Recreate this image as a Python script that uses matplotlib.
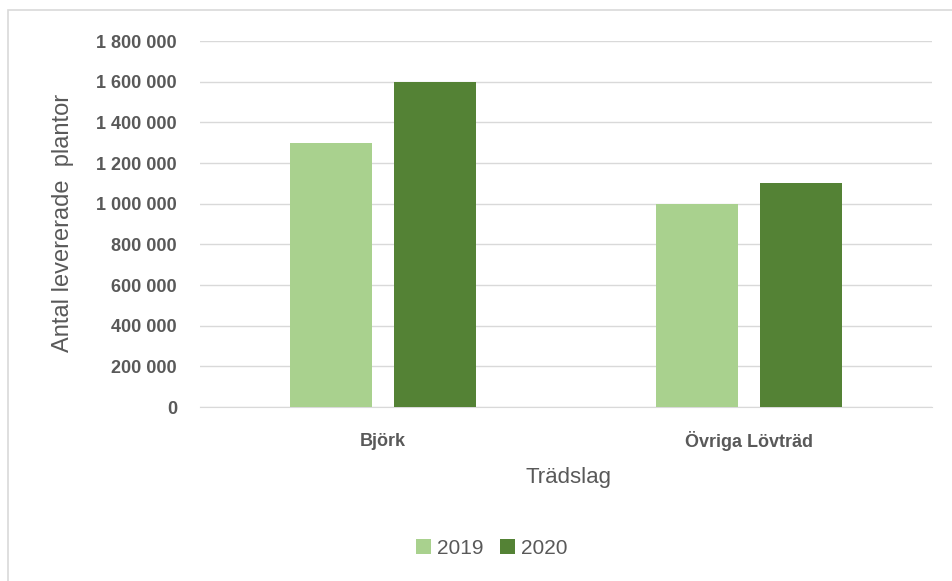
import numpy as np
import matplotlib.pyplot as plt
from matplotlib.patches import Rectangle
from matplotlib.ticker import FuncFormatter

# data
kategorier = ["Björk", "Övriga Lövträd"]
ar = ["2019", "2020"]
varden_2019 = [1300000, 1000000]
varden_2020 = [1600000, 1100000]
farger = ["#A9D18E", "#548235"]

plt.rcParams['font.family'] = ['Liberation Sans Narrow', 'Liberation Sans', 'DejaVu Sans']
grå = "#595959"

fig = plt.figure(figsize=(9.52, 5.81), dpi=100)
# ram runt diagrammet
fig.patches.append(Rectangle((8/952, -0.1), 1.1, 1 - 10/581 + 0.1, transform=fig.transFigure,
                             fill=False, edgecolor="#D9D9D9", linewidth=1.2))

ax = fig.add_axes([200/952, 1 - 407/581, 732/952, (407 - 41)/581])
x = np.arange(len(kategorier))
bredd = 0.224
ax.bar(x - 0.1434, varden_2019, bredd, color=farger[0], label=ar[0], zorder=3)
ax.bar(x + 0.1434, varden_2020, bredd, color=farger[1], label=ar[1], zorder=3)

ax.set_xlim(-0.5, 1.5)
ax.set_ylim(0, 1800000)
ax.set_yticks(np.arange(0, 1800001, 200000))
ax.yaxis.set_major_formatter(FuncFormatter(lambda v, p: f"{int(v):,}".replace(",", " ")))
ax.set_xticks(x)
ax.set_xticklabels(kategorier)
ax.grid(axis="y", color="#D9D9D9", linewidth=1, zorder=0)
for s in ["top", "right", "left"]:
    ax.spines[s].set_visible(False)
ax.spines["bottom"].set_color("#D9D9D9")
ax.tick_params(axis="both", length=0, colors=grå, labelsize=13)
ax.tick_params(axis="y", pad=16.5)
ax.tick_params(axis="x", pad=24.5)
for t in ax.get_xticklabels() + ax.get_yticklabels():
    t.set_fontweight("bold")
for t in ax.get_xticklabels():
    t.set_va("center")

fig.text(63/952, 1 - 223/581, "Antal levererade  plantor", rotation=90, ha="center", va="center",
         fontsize=17, color=grå)
fig.text(568/952, 1 - 478/581, "Trädslag", ha="center", va="center", fontsize=16, color=grå)

fig.legend(loc="center", bbox_to_anchor=(492/952, 1 - 548/581), ncol=2, frameon=False,
           fontsize=15, labelcolor=grå, handlelength=0.7, handleheight=0.7,
           handletextpad=0.3, columnspacing=0.8)

fig.savefig("out.png", dpi=100)
